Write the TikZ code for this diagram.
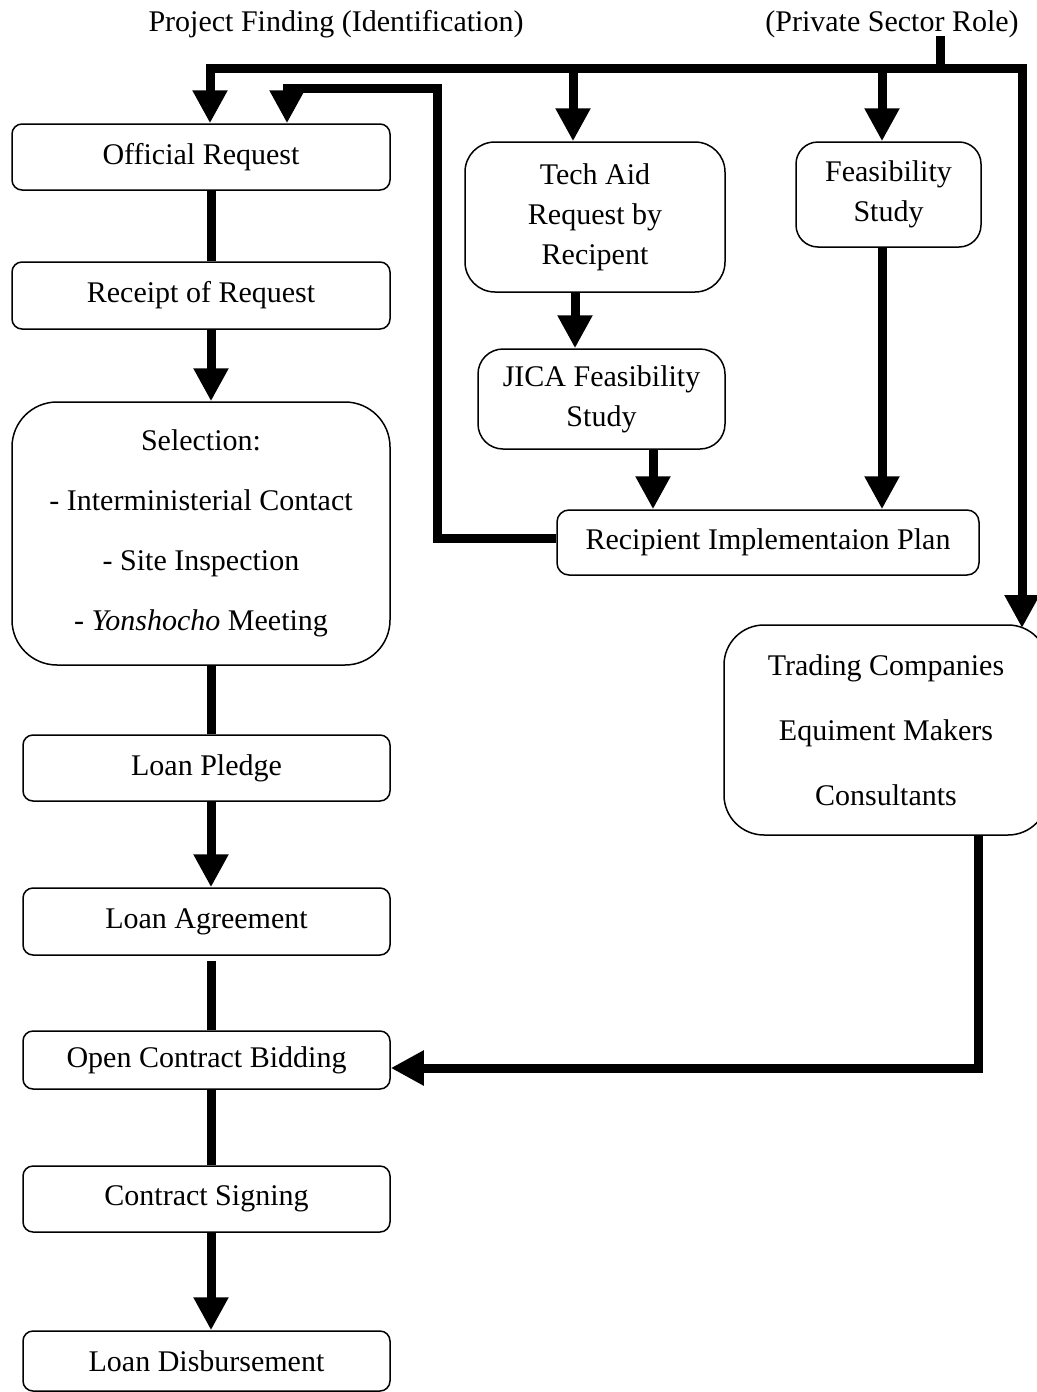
\documentclass[tikz,border=0pt]{standalone}
\usepackage{fontspec}
\setmainfont{Liberation Serif}
\usetikzlibrary{arrows.meta}
\begin{document}
\begin{tikzpicture}[x=1pt,y=-1pt,
  box/.style={draw, line width=1.5pt, rounded corners=10pt, inner sep=0pt, align=center,
    font=\fontsize{30}{36}\selectfont},
  lbl/.style={inner sep=0pt, font=\fontsize{30}{36}\selectfont},
  conn/.style={line width=9pt},
  arr/.style={line width=9pt, -{Triangle[width=33pt,length=33pt]}}]
\useasboundingbox (0,0) rectangle (1036,1392);

% titles
\node[lbl] (pf) at (336,24) {Project Finding (Identification)};
\node[lbl] (psr) at (892,24) {(Private Sector Role)};

% left column
\node[box, minimum width=378pt, minimum height=66pt] (official) at (201,157) {Official Request};
\node[box, minimum width=378pt, minimum height=67pt] (receipt) at (201,295.5) {Receipt of Request};
\node[box, rounded corners=45pt, minimum width=378pt, minimum height=263pt] (selection) at (201,533.5)
  {Selection:\\[24pt] - Interministerial Contact\\[24pt] - Site Inspection\\[24pt] - \textit{Yonshocho} Meeting};
\node[box, minimum width=367pt, minimum height=66pt] (pledge) at (206.5,768) {Loan Pledge};
\node[box, minimum width=367pt, minimum height=67pt] (agreement) at (206.5,921.5) {Loan Agreement};
\node[box, minimum width=367pt, minimum height=58pt] (ocb) at (206.5,1060) {Open Contract Bidding};
\node[box, minimum width=367pt, minimum height=66pt] (signing) at (206.5,1199) {Contract Signing};
\node[box, minimum width=367pt, minimum height=60pt] (disb) at (206.5,1361) {Loan Disbursement};

% middle / right
\node[box, rounded corners=30pt, minimum width=260pt, minimum height=150pt] (techaid) at (595,217)
  {Tech Aid\\[4pt] Request by\\[4pt] Recipent};
\node[box, rounded corners=25pt, minimum width=247pt, minimum height=100pt] (jica) at (601.5,399)
  {JICA Feasibility\\[4pt] Study};
\node[box, rounded corners=22pt, minimum width=185pt, minimum height=105pt] (feas) at (888.5,194.5)
  {Feasibility\\[4pt] Study};
\node[box, rounded corners=12pt, minimum width=422pt, minimum height=65pt] (rip) at (768,542.5)
  {Recipient Implementaion Plan};
\node[box, rounded corners=40pt, minimum width=324pt, minimum height=210pt] (trading) at (886,730)
  {Trading Companies\\[29pt] Equiment Makers\\[29pt] Consultants};

% coordinates
\coordinate (busL) at (210,68);
\coordinate (busR) at (1022,68);
\coordinate (busM) at (600,68);
\coordinate (drop) at (940,36);
\coordinate (tradTip) at (1022,628);
\coordinate (col) at (211,0);
\coordinate (ta) at (573,68);
\coordinate (fs) at (882,68);
\coordinate (r1) at (437,538);
\coordinate (r2) at (437,88);
\coordinate (r3) at (287,88);
\coordinate (t1) at (978,1068);
\coordinate (jx) at (575,0);
\coordinate (jr) at (653,0);

% bus
\draw[conn] (drop) -- (drop |- busL);
\draw[arr] (busR) -- (busL) -- (busL |- official.north);
\draw[arr] (busM) -- (busR) -- (tradTip);
\draw[arr] (ta) -- (ta |- techaid.north);
\draw[arr] (fs) -- (fs |- feas.north);

% return from implementation plan
\draw[arr] (r1 -| rip.west) -- (r1) -- (r2) -- (r3) -- (r3 |- official.north);

% middle flows
\draw[arr] (jx |- techaid.south) -- (jx |- jica.north);
\draw[arr] (jr |- jica.south) -- (jr |- rip.north);
\draw[arr] (fs |- feas.south) -- (fs |- rip.north);

% trading to bidding
\draw[arr] (t1 |- trading.south) -- (t1) -- (t1 -| ocb.east);

% left column flows
\draw[conn] (col |- official.south) -- (col |- receipt.north);
\draw[arr] (col |- receipt.south) -- (col |- selection.north);
\draw[conn] (col |- selection.south) -- (col |- pledge.north);
\draw[arr] (col |- pledge.south) -- (col |- agreement.north);
\draw[conn] ([yshift=-5pt]col |- agreement.south) -- (col |- ocb.north);
\draw[conn] (col |- ocb.south) -- (col |- signing.north);
\draw[arr] (col |- signing.south) -- (col |- disb.north);
\end{tikzpicture}
\end{document}
